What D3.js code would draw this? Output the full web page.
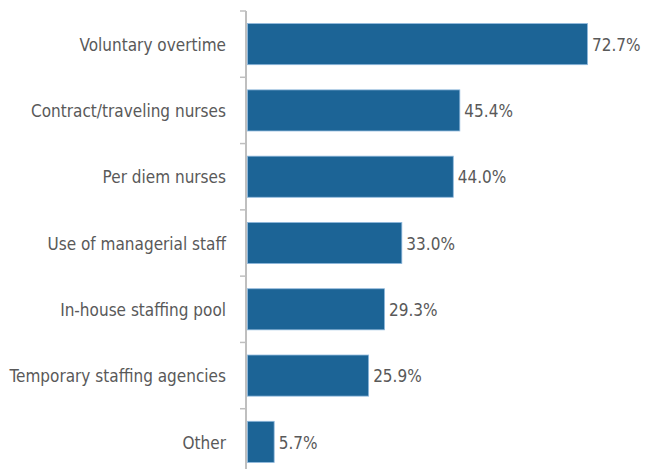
<!DOCTYPE html>
<html>
<head>
<meta charset="utf-8">
<script src="https://cdn.jsdelivr.net/npm/d3@7"></script>
<style>
  html, body { margin: 0; padding: 0; background: #fff; }
  text { font-family: "DejaVu Sans Condensed", "Liberation Sans Narrow", sans-serif; fill: #595959; }
</style>
</head>
<body>
<script>
// data
var categories = ["Voluntary overtime", "Contract/traveling nurses", "Per diem nurses",
  "Use of managerial staff", "In-house staffing pool", "Temporary staffing agencies", "Other"];
var values = [72.7, 45.4, 44.0, 33.0, 29.3, 25.9, 5.7];

var width = 653, height = 469;
var squeeze = 0.92; // font in the original is narrower than anything installed

var svg = d3.select("body").append("svg")
  .attr("width", width)
  .attr("height", height);

var x = d3.scaleLinear().domain([0, 72.7]).range([247, 587]);
var y = d3.scaleBand().domain(categories).range([11, 475]).paddingInner(0.38).paddingOuter(0.19);

var rows = categories.map(function(c, i) { return {cat: c, val: values[i]}; });

// axis line + ticks between categories
svg.append("line")
  .attr("x1", 246).attr("x2", 246)
  .attr("y1", 11).attr("y2", 475)
  .style("stroke", "#bfbfbf").style("stroke-width", 2);

var half = y.step() * y.paddingInner() / 2;
var ticks = categories.map(function(c) { return y(c) - half; });
ticks.push(y(categories[categories.length - 1]) + y.bandwidth() + half);
svg.selectAll("line.tick").data(ticks).enter().append("line")
  .attr("class", "tick")
  .attr("x1", 240).attr("x2", 246)
  .attr("y1", function(d) { return d; }).attr("y2", function(d) { return d; })
  .style("stroke", "#bfbfbf").style("stroke-width", 1.5);

svg.selectAll("rect.bar").data(rows).enter().append("rect")
  .attr("class", "bar")
  .attr("x", x(0) + 0.5)
  .attr("y", function(d) { return y(d.cat); })
  .attr("width", function(d) { return x(d.val) - x(0); })
  .attr("height", y.bandwidth())
  .style("fill", "#1c6496")
  .style("stroke", "#8fb8dc")
  .style("stroke-width", 0.8);

svg.selectAll("text.val").data(rows).enter().append("text")
  .attr("class", "val")
  .attr("transform", function(d) {
    return "translate(" + (x(d.val) + 5) + "," + (y(d.cat) + y.bandwidth() / 2) + ") scale(" + squeeze + ",1)";
  })
  .attr("dy", "0.36em")
  .style("font-size", "18.5px")
  .text(function(d) { return d.val.toFixed(1) + "%"; });

svg.selectAll("text.cat").data(rows).enter().append("text")
  .attr("class", "cat")
  .attr("transform", function(d) {
    return "translate(226," + (y(d.cat) + y.bandwidth() / 2) + ") scale(" + squeeze + ",1)";
  })
  .attr("dy", "0.36em")
  .attr("text-anchor", "end")
  .style("font-size", "18.5px")
  .text(function(d) { return d.cat; });
</script>
</body>
</html>
